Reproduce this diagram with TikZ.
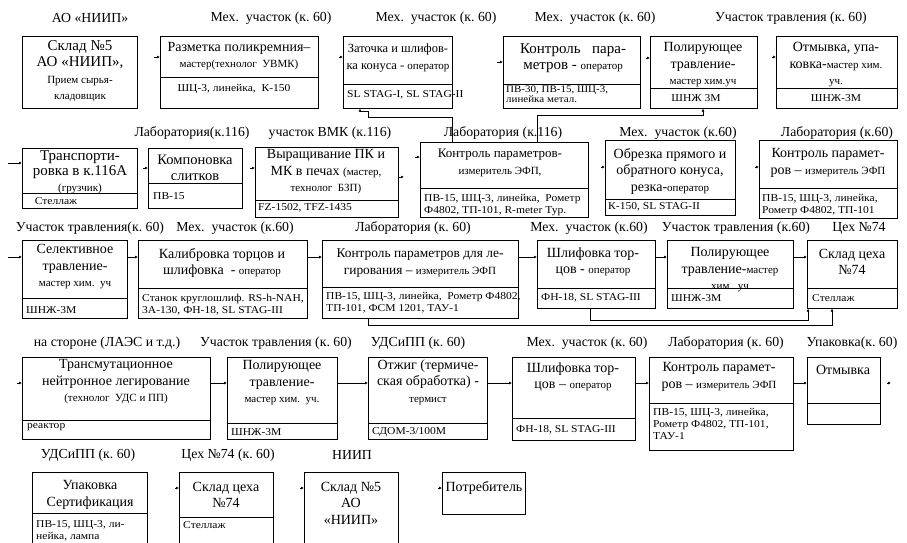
\documentclass[tikz,border=0pt]{standalone}
\usepackage{fontspec}
\setmainfont{Liberation Serif}
\newfontfamily\eqfam[FakeStretch=1.1]{Liberation Serif}
\usetikzlibrary{arrows.meta}
\newcommand{\sml}{\fontsize{11}{12.5}\selectfont}
\newcommand{\eqf}{\eqfam\fontsize{10.5}{12}\selectfont}
\newcommand{\jline}[2]{\makebox[#1][s]{#2}}
\tikzset{
  box/.style={draw, line width=0.7pt, anchor=north west, inner sep=0pt},
  hdr/.style={font=\fontsize{13.8}{15}\selectfont},
  ttl/.style={font=\fontsize{14}{16.5}\selectfont, align=center, inner sep=0pt},
  eqp/.style={font=\eqf, align=left, inner sep=0pt, anchor=west},
  eqc/.style={font=\eqf, inner sep=0pt},
  tip/.style={-{Latex[length=3pt,width=3pt]}, line width=0.6pt},
}
\begin{document}
\begin{tikzpicture}[x=1pt,y=-1pt]
	\fill[white] (0,0) rectangle (907,543);
	\useasboundingbox (0,0) rectangle (907,543);
	%Row 1
	\node[hdr] (h11) at (90,18) {АО «НИИП»};
	\node[hdr] (h12) at (271,18) {Мех.~~участок (к.~60)};
	\node[hdr] (h13) at (436,18) {Мех.~~участок (к.~60)};
	\node[hdr] (h14) at (595,18) {Мех.~~участок (к.~60)};
	\node[hdr] (h15) at (791,18) {Участок травления (к.~60)};
	\node[box, minimum width=115pt, minimum height=72pt] (skl) at (22,36) {};
	\node[box, minimum width=158pt, minimum height=72pt] (raz) at (160,36) {};
	\node[box, minimum width=109pt, minimum height=72pt] (zat) at (343,36) {};
	\node[box, minimum width=137pt, minimum height=72pt] (kp1) at (503,36) {};
	\node[box, minimum width=107pt, minimum height=72pt] (pol1) at (650,36) {};
	\node[box, minimum width=121pt, minimum height=72pt] (otm1) at (776,36) {};
	\draw[line width=0.7pt] (160,77) -- (318,77);
	\draw[line width=0.7pt] (343,84) -- (452,84);
	\draw[line width=0.7pt] (503,84) -- (640,84);
	\draw[line width=0.7pt] (650,88) -- (757,88);
	\draw[line width=0.7pt] (776,88) -- (897,88);
	\node[ttl, font=\fontsize{15}{16.5}\selectfont] (sklT) at (80,71) {Склад №5\\АО «НИИП»,\\{\sml Прием сырья-}\\{\sml кладовщик}};
	\node[ttl] (razT) at (239,56) {Разметка поликремния–\\{\sml мастер(технолог~~УВМК)}};
	\node[eqc] (razE) at (234,89) {ШЦ-3, линейка,~~К-150};
	\node[ttl, font=\fontsize{12.5}{16.5}\selectfont] (zatT) at (398,58) {Заточка и шлифов-\\ка конуса - {\sml оператор}};
	\node[eqp] (zatE) at (347,95) {SL STAG-I, SL STAG-II};
	\node[ttl, font=\fontsize{15}{16.5}\selectfont] (kp1T) at (573,58) {\jline{106pt}{Контроль пара-}\\метров - {\sml оператор}};
	\node[eqp, anchor=north west, font=\eqfam\fontsize{10}{10}\selectfont] (kp1E) at (506,86) {ПВ-30, ПВ-15, ШЦ-3,\\линейка метал.};
	\node[ttl] (pol1T) at (703,65) {Полирующее\\травление-\\{\sml мастер хим.уч}};
	\node[eqc] (pol1E) at (696,98) {ШНЖ 3М};
	\node[ttl] (otm1T) at (836,65) {Отмывка, упа-\\ковка-{\sml мастер хим.}\\{\sml уч.}};
	\node[eqc] (otm1E) at (836,98) {ШНЖ-3М};
	\coordinate (a12) at (154,57);
	\coordinate (a13) at (339,57);
	\coordinate (a14) at (497,62);
	\coordinate (a15) at (646,58);
	\coordinate (a16) at (772,57);
	\draw[tip] (a12) -- (raz.west |- a12);
	\draw[tip] (a13) -- (zat.west |- a13);
	\draw[tip] (a14) -- (kp1.west |- a14);
	\draw[tip] (a15) -- (pol1.west |- a15);
	\draw[tip] (a16) -- (otm1.west |- a16);
	%Row 2
	\node[hdr] (h21) at (192,133) {Лаборатория(к.116)};
	\node[hdr] (h22) at (330,133) {участок ВМК (к.116)};
	\node[hdr] (h23) at (503,133) {Лаборатория (к.116)};
	\node[hdr] (h24) at (678,133) {Мех.~~участок (к.60)};
	\node[hdr] (h25) at (837,133) {Лаборатория (к.60)};
	\node[box, minimum width=115pt, minimum height=60pt] (tr) at (22,148) {};
	\node[box, minimum width=94pt, minimum height=60pt] (kom) at (148,148) {};
	\node[box, minimum width=143pt, minimum height=70pt] (vyr) at (255,147) {};
	\node[box, minimum width=168pt, minimum height=75pt] (kp2) at (420,142) {};
	\node[box, minimum width=130pt, minimum height=75pt] (obr) at (605,140) {};
	\node[box, minimum width=138pt, minimum height=78pt] (kp3) at (759,140) {};
	\draw[line width=0.7pt] (22,193) -- (137,193);
	\draw[line width=0.7pt] (148,183) -- (242,183);
	\draw[line width=0.7pt] (255,200) -- (398,200);
	\draw[line width=0.7pt] (420,188) -- (588,188);
	\draw[line width=0.7pt] (605,199) -- (735,199);
	\draw[line width=0.7pt] (759,188) -- (897,188);
	\node[ttl, font=\fontsize{15}{15.5}\selectfont] (trT) at (80,172) {Транспорти-\\ровка в к.116А\\{\sml (грузчик)}};
	\node[eqc] (trE) at (56,201) {Стеллаж};
	\node[ttl, font=\fontsize{14.5}{16.5}\selectfont] (komT) at (195,168) {Компоновка\\слитков};
	\node[eqp] (komE) at (153,196) {ПВ-15};
	\node[ttl] (vyrT) at (326,172) {Выращивание ПК и\\МК в печах {\sml (мастер,}\\{\sml технолог~~БЗП)}};
	\node[eqp] (vyrE) at (258,208) {FZ-1502, TFZ-1435};
	\node[ttl, font=\fontsize{13}{16.5}\selectfont] (kp2T) at (500,163) {Контроль параметров-\\{\sml измеритель ЭФП,}};
	\node[eqp] (kp2E) at (424,205) {ПВ-15, ШЦ-3, линейка,~~Рометр\\Ф4802, ТП-101, R-meter Тур.};
	\node[ttl] (obrT) at (670,171) {Обрезка прямого и\\обратного конуса,\\резка-{\sml оператор}};
	\node[eqp] (obrE) at (608,207) {К-150, SL STAG-II};
	\node[ttl] (kp3T) at (828,163) {Контроль парамет-\\ров – {\sml измеритель ЭФП}};
	\node[eqp] (kp3E) at (762,205) {ПВ-15, ШЦ-3, линейка,\\Рометр Ф4802, ТП-101};
	\coordinate (a21) at (8,163);
	\coordinate (a22) at (143,168);
	\coordinate (a23) at (250,168);
	\coordinate (a24) at (415,157);
	\coordinate (a24b) at (404,177);
	\coordinate (a25) at (601,167);
	\coordinate (a26) at (755,167);
	\draw[tip] (a21) -- (tr.west |- a21);
	\draw[tip] (a22) -- (kom.west |- a22);
	\draw[tip] (a23) -- (vyr.west |- a23);
	\draw[tip] (a24) -- (kp2.west |- a24);
	\draw[tip] (vyr.east |- a24b) -- (a24b);
	\draw[tip] (a25) -- (obr.west |- a25);
	\draw[tip] (a26) -- (kp3.west |- a26);
	%back loops
	\coordinate (k1) at (452,117);
	\coordinate (k2) at (368,111);
	\coordinate (k3) at (360,111);
	\draw[tip] (kp2.north -| k1) -- (k1) -| (k2) -- (k3) -- (zat.south -| k3);
	\coordinate (m1) at (537,115);
	\coordinate (m2) at (703,115);
	\draw[tip] (kp2.north -| m1) -- (m1) -- (m2) -- (pol1.south -| m2);
	%Row 3
	\node[hdr] (h31) at (90,228) {Участок травления(к.~60)};
	\node[hdr] (h32) at (235,228) {Мех.~~участок (к.60)};
	\node[hdr] (h33) at (413,228) {Лаборатория (к.~60)};
	\node[hdr] (h34) at (589,228) {Мех.~~участок (к.60)};
	\node[hdr] (h35) at (736,228) {Участок травления (к.60)};
	\node[hdr] (h36) at (859,228) {Цех №74};
	\node[box, minimum width=105pt, minimum height=78pt] (sel) at (22,240) {};
	\node[box, minimum width=169pt, minimum height=78pt] (kal) at (138,240) {};
	\node[box, minimum width=196pt, minimum height=78pt] (kl) at (322,240) {};
	\node[box, minimum width=118pt, minimum height=68pt] (shl) at (537,240) {};
	\node[box, minimum width=126pt, minimum height=68pt] (pol3) at (667,240) {};
	\node[box, minimum width=90pt, minimum height=68pt] (skl74) at (807,240) {};
	\node[ttl] (selT) at (75,267) {Селективное\\травление-\\{\sml мастер хим.~~уч}};
	\node[eqp] (selE) at (26,310) {ШНЖ-3М};
	\node[ttl] (kalT) at (222,263) {Калибровка торцов и\\шлифовка~~- {\sml оператор}};
	\node[eqp] (kalE) at (142,305) {Станок круглошлиф. RS-h-NAH,\\3А-130, ФН-18, SL STAG-III};
	\node[ttl, font=\fontsize{13.4}{16.5}\selectfont] (klT) at (420,263) {Контроль параметров для ле-\\гирования – {\sml измеритель ЭФП}};
	\node[eqp] (klE) at (326,303) {ПВ-15, ШЦ-3, линейка,~~Рометр Ф4802,\\ТП-101, ФСМ 1201, ТАУ-1};
	\node[ttl] (shlT) at (593,262) {Шлифовка тор-\\цов - {\sml оператор}};
	\node[eqp] (shlE) at (541,298) {ФН-18, SL STAG-III};
	\node[ttl] (pol3T) at (730,270) {Полирующее\\травление-{\sml мастер}\\{\sml хим.~~уч}};
	\node[eqp] (pol3E) at (671,298) {ШНЖ-3М};
	\node[ttl] (skl74T) at (852,262) {Склад цеха\\№74};
	\node[eqp] (skl74E) at (812,298) {Стеллаж};
	\draw[line width=0.7pt] (22,298) -- (127,298);
	\draw[line width=0.7pt] (138,288) -- (307,288);
	\draw[line width=0.7pt] (322,287) -- (518,287);
	\draw[line width=0.7pt] (537,288) -- (655,288);
	\draw[line width=0.7pt] (667,288) -- (793,288);
	\draw[line width=0.7pt] (807,288) -- (897,288);
	\coordinate (r3) at (8,257);
	\draw[tip] (r3) -- (sel.west |- r3);
	\draw[tip] (sel.east |- r3) -- (kal.west |- r3);
	\draw[tip] (kal.east |- r3) -- (kl.west |- r3);
	\draw[tip] (kl.east |- r3) -- (shl.west |- r3);
	\draw[tip] (shl.east |- r3) -- (pol3.west |- r3);
	\draw[tip] (pol3.east |- r3) -- (skl74.west |- r3);
	\coordinate (n1) at (368,325);
	\coordinate (n2) at (832,325);
	\draw[tip] (kl.south -| n1) -- (n1) -- (n2) -- (skl74.south -| n2);
	\coordinate (p1) at (590,320);
	\coordinate (p2) at (808,320);
	\draw[tip] (shl.south -| p1) -- (p1) -- (p2) -- (skl74.south -| p2);
	%Row 4
	\node[hdr] (h41) at (107,343) {на стороне (ЛАЭС и т.д.)};
	\node[hdr] (h42) at (276,343) {Участок травления (к.~60)};
	\node[hdr] (h43) at (418,343) {УДСиПП (к.~60)};
	\node[hdr] (h44) at (587,343) {Мех.~~участок (к.~60)};
	\node[hdr] (h45) at (726,343) {Лаборатория (к.~60)};
	\node[hdr] (h46) at (852,343) {Упаковка(к.~60)};
	\node[box, minimum width=188pt, minimum height=82pt] (trm) at (22,357) {};
	\node[box, minimum width=110pt, minimum height=82pt] (pol4) at (227,357) {};
	\node[box, minimum width=119pt, minimum height=82pt] (otg) at (368,357) {};
	\node[box, minimum width=123pt, minimum height=83pt] (shl4) at (512,357) {};
	\node[box, minimum width=144pt, minimum height=93pt] (kp4) at (649,357) {};
	\node[box, minimum width=73pt, minimum height=67pt] (otm4) at (807,357) {};
	\draw[line width=0.7pt] (22,420) -- (210,420);
	\draw[line width=0.7pt] (227,423) -- (337,423);
	\draw[line width=0.7pt] (368,423) -- (487,423);
	\draw[line width=0.7pt] (512,418) -- (635,418);
	\draw[line width=0.7pt] (649,403) -- (793,403);
	\draw[line width=0.7pt] (807,403) -- (880,403);
	\node[ttl] (trmT) at (116,382) {Трансмутационное\\нейтронное легирование\\{\sml (технолог~~УДС и ПП)}};
	\node[eqp] (trmE) at (27,427) {реактор};
	\node[ttl] (pol4T) at (282,383) {Полирующее\\травление-\\{\sml мастер хим.~~уч.}};
	\node[eqp] (pol4E) at (231,432) {ШНЖ-3М};
	\node[ttl] (otgT) at (428,382) {Отжиг (термиче-\\ская обработка) -\\{\sml термист}};
	\node[eqp] (otgE) at (372,432) {СДОМ-3/100М};
	\node[ttl] (shl4T) at (573,377) {Шлифовка тор-\\цов – {\sml оператор}};
	\node[eqp] (shl4E) at (516,430) {ФН-18, SL STAG-III};
	\node[ttl] (kp4T) at (719,377) {Контроль парамет-\\ров – {\sml измеритель ЭФП}};
	\node[eqp] (kp4E) at (653,424) {ПВ-15, ШЦ-3, линейка,\\Рометр Ф4802, ТП-101,\\ТАУ-1};
	\node[ttl] (otm4T) at (843,370) {Отмывка};
	\coordinate (r4) at (17,383);
	\coordinate (r4e) at (891,383);
	\draw[tip] (r4) -- (trm.west |- r4);
	\draw[tip] (trm.east |- r4) -- (pol4.west |- r4);
	\draw[tip] (pol4.east |- r4) -- (otg.west |- r4);
	\draw[tip] (otg.east |- r4) -- (shl4.west |- r4);
	\draw[tip] (shl4.east |- r4) -- (kp4.west |- r4);
	\draw[tip] (kp4.east |- r4) -- (otm4.west |- r4);
	\draw[tip] ([xshift=-4pt]r4e) -- (r4e);
	%Row 5
	\node[hdr] (h51) at (88,455) {УДСиПП (к.~60)};
	\node[hdr] (h52) at (228,455) {Цех №74 (к.~60)};
	\node[hdr] (h53) at (352,455) {НИИП};
	\node[box, minimum width=115pt, minimum height=90pt] (upk) at (32,472) {};
	\node[box, minimum width=94pt, minimum height=90pt] (skl74b) at (179,472) {};
	\node[box, minimum width=94pt, minimum height=90pt] (skl5b) at (304,472) {};
	\node[box, minimum width=83pt, minimum height=42pt] (potr) at (442,472) {};
	\draw[line width=0.7pt] (32,513) -- (147,513);
	\draw[line width=0.7pt] (179,517) -- (273,517);
	\node[ttl] (upkT) at (90,495) {Упаковка\\Сертификация};
	\node[eqp] (upkE) at (36,531) {ПВ-15, ШЦ-3, ли-\\нейка, лампа};
	\node[ttl] (skl74bT) at (226,495) {Склад цеха\\№74};
	\node[eqp] (skl74bE) at (183,525) {Стеллаж};
	\node[ttl] (skl5bT) at (351,503) {Склад №5\\АО\\«НИИП»};
	\node[ttl] (potrT) at (484,488) {Потребитель};
	\coordinate (a52) at (175,488);
	\coordinate (a53) at (300,488);
	\coordinate (a54) at (438,488);
	\draw[tip] (a52) -- (skl74b.west |- a52);
	\draw[tip] (a53) -- (skl5b.west |- a53);
	\draw[tip] (a54) -- (potr.west |- a54);
\end{tikzpicture}
\end{document}
